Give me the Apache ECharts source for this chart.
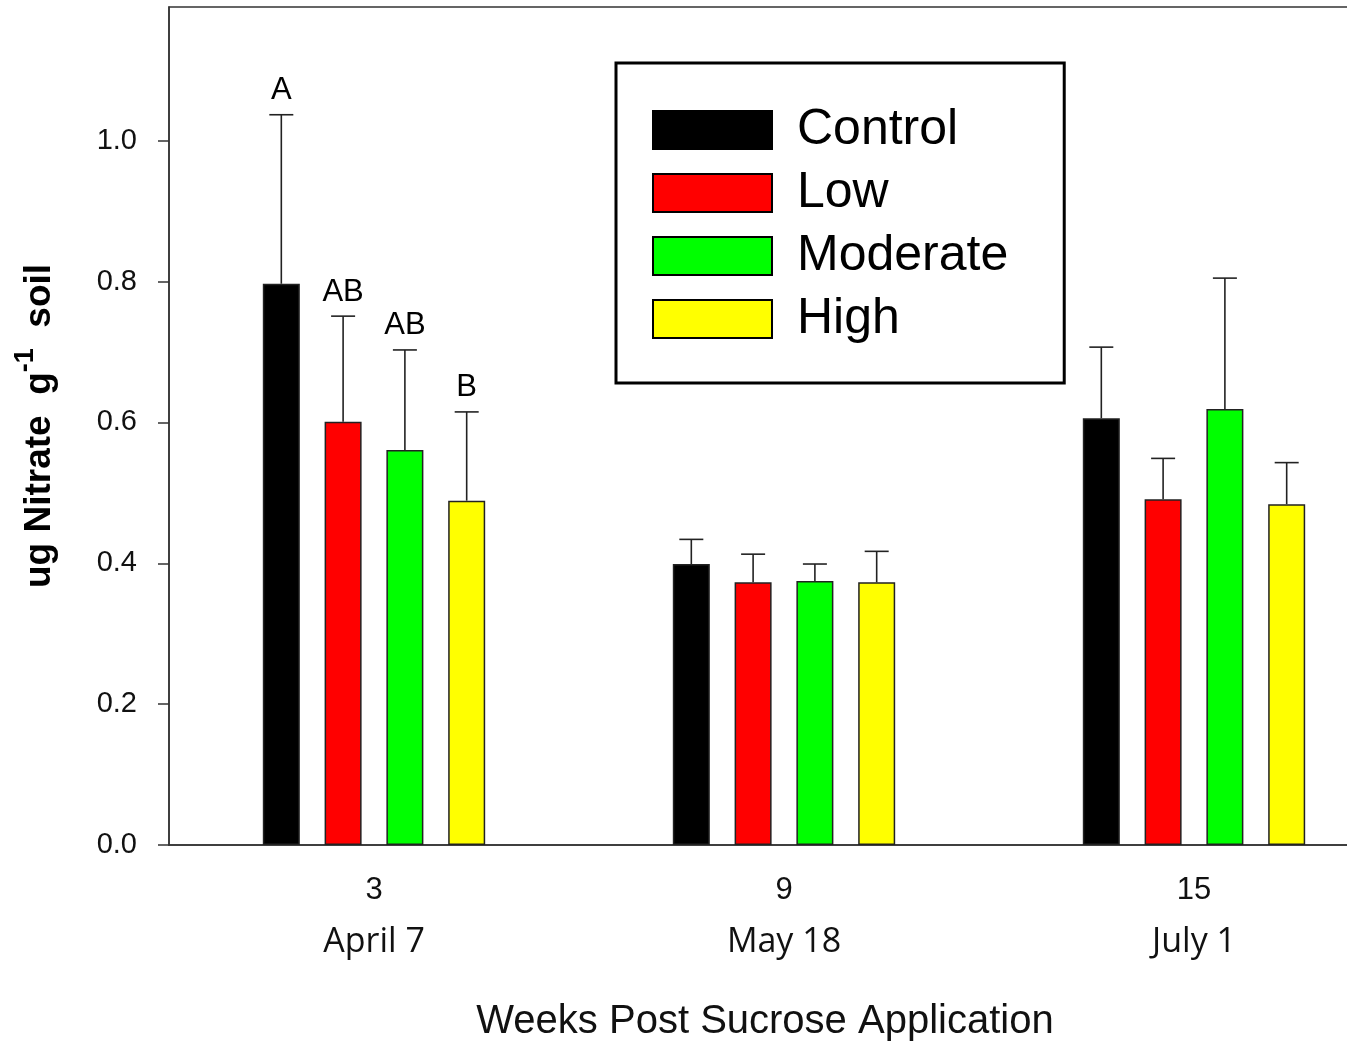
<!DOCTYPE html>
<html><head><meta charset="utf-8">
<script src="https://cdn.jsdelivr.net/npm/echarts@6/dist/echarts.min.js"></script>
<style>html,body{margin:0;padding:0;background:#fff}#c{width:1347px;height:1045px}</style>
</head><body><div id="c"></div>
<script>
// ---- data ----
const weeks = ['3', '9', '15'];
const dates = ['April 7', 'May 18', 'July 1'];
const seriesNames = ['Control', 'Low', 'Moderate', 'High'];
const seriesColors = ['#000000', '#ff0000', '#00ff00', '#ffff00'];
const controlMean = [0.797, 0.399, 0.606];
const controlSE   = [0.240, 0.035, 0.101];
const lowMean     = [0.601, 0.373, 0.491];
const lowSE       = [0.150, 0.040, 0.058];
const moderateMean = [0.561, 0.375, 0.619];
const moderateSE   = [0.142, 0.024, 0.186];
const highMean    = [0.489, 0.373, 0.484];
const highSE      = [0.126, 0.044, 0.059];
const controlLetters = ['A', '', ''];
const lowLetters = ['AB', '', ''];
const moderateLetters = ['AB', '', ''];
const highLetters = ['B', '', ''];
const yTicks = [0, 0.2, 0.4, 0.6, 0.8, 1.0];

const means = [controlMean, lowMean, moderateMean, highMean];
const ses = [controlSE, lowSE, moderateSE, highSE];
const letters = [controlLetters, lowLetters, moderateLetters, highLetters];

const BAR_W = 37, GAP_RATIO = 0.67;
const STEP = BAR_W * (1 + GAP_RATIO);
const LINE = '#222';

const chart = echarts.init(document.getElementById('c'), null, {renderer: 'canvas'});

const series = [];
seriesNames.forEach((n, i) => {
  series.push({
    type: 'bar', name: n, data: means[i],
    barWidth: BAR_W, barGap: (GAP_RATIO * 100) + '%',
    itemStyle: {color: seriesColors[i], borderColor: LINE, borderWidth: 1.5},
    emphasis: {disabled: true}, z: 2
  });
});
seriesNames.forEach((n, i) => {
  const off = (i - 1.5) * STEP;
  series.push({
    type: 'custom', name: 'err' + i, z: 3, silent: true,
    encode: {x: 0, y: 1},
    data: means[i].map((m, k) => [k, m, ses[i][k]]),
    renderItem: (params, api) => {
      const cat = api.value(0), m = api.value(1), se = api.value(2);
      const p0 = api.coord([cat, m]);
      const p1 = api.coord([cat, m + se]);
      const x = p0[0] + off;
      const children = [
        {type: 'line', shape: {x1: x, y1: p0[1], x2: x, y2: p1[1]}, style: {stroke: LINE, lineWidth: 1.6}},
        {type: 'line', shape: {x1: x - 12, y1: p1[1], x2: x + 12, y2: p1[1]}, style: {stroke: LINE, lineWidth: 1.6}}
      ];
      const lt = letters[i][params.dataIndex];
      if (lt) {
        children.push({type: 'text', x: x, y: p1[1] - 24,
          style: {text: lt, fontFamily: 'Liberation Sans', fontSize: 31, fill: '#000', align: 'center', verticalAlign: 'middle'}});
      }
      return {type: 'group', children};
    }
  });
});

chart.setOption({
  animation: false,
  backgroundColor: '#fff',
  grid: {left: 169, top: 7, width: 1230, height: 838, outerBoundsMode: 'none', containLabel: false,
    show: true, borderColor: '#333', borderWidth: 1.5},
  legend: {
    data: seriesNames, orient: 'vertical', left: 616, top: 63,
    itemWidth: 119, itemHeight: 38, itemGap: 13,
    padding: [42, 56, 39, 36],
    borderColor: '#000', borderWidth: 3,
    icon: 'rect', selectedMode: false,
    itemStyle: {borderColor: '#000', borderWidth: 2},
    textStyle: {fontFamily: 'Liberation Sans', fontSize: 50, color: '#000', padding: [0, 0, 0, 20]}
  },
  xAxis: {
    type: 'category', data: weeks,
    axisLine: {lineStyle: {color: '#333', width: 1.5}},
    axisTick: {alignWithLabel: true, length: 11, lineStyle: {color: '#333', width: 1.5}},
    axisLabel: {
      margin: 19,
      formatter: (v, idx) => '{w|' + v + '}\n{d|' + dates[idx] + '}',
      rich: {
        w: {fontFamily: 'Liberation Sans', fontSize: 31, lineHeight: 52, color: '#111'},
        d: {fontFamily: 'Open Sans', fontSize: 34, lineHeight: 52, color: '#111'}
      }
    },
    name: 'Weeks Post Sucrose Application', nameLocation: 'middle', nameGap: 155,
    nameTextStyle: {fontFamily: 'Liberation Sans', fontSize: 40, color: '#111', lineHeight: 44, padding: [0, 38, 0, 0]}
  },
  yAxis: {
    type: 'value', min: 0, max: 1.19, interval: 0.2,
    splitLine: {show: false},
    axisLine: {show: true, lineStyle: {color: '#333', width: 1.5}},
    axisTick: {show: true, length: 11, customValues: yTicks, lineStyle: {color: '#333', width: 1.5}},
    axisLabel: {margin: 32, customValues: yTicks, formatter: v => v.toFixed(1),
      fontFamily: 'Liberation Sans', fontSize: 29, color: '#111'},
    name: '{b|ug Nitrate  g}{s|-1}{b|  soil}', nameLocation: 'middle', nameGap: 101, nameRotate: 90,
    nameTextStyle: {
      rich: {
        b: {fontFamily: 'Liberation Sans', fontWeight: 'bold', fontSize: 37, lineHeight: 56, color: '#000'},
        s: {fontFamily: 'Liberation Sans', fontWeight: 'bold', fontSize: 27, lineHeight: 27, verticalAlign: 'top', color: '#000'}
      }
    }
  },
  series
});
</script></body></html>
